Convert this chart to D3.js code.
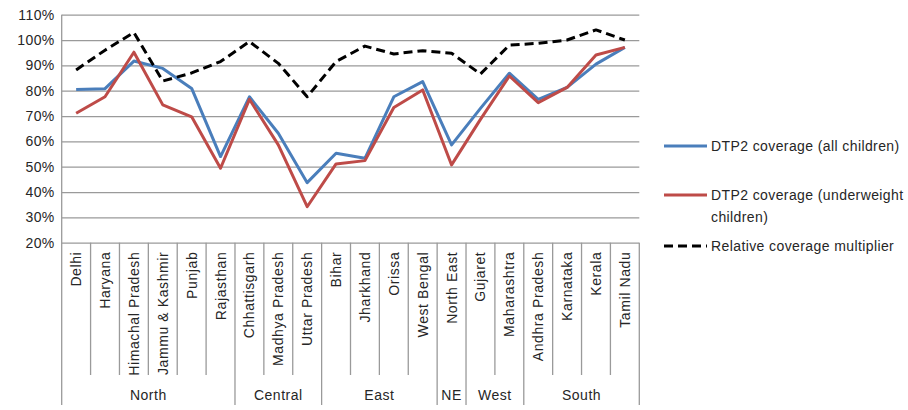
<!DOCTYPE html>
<html>
<head>
<meta charset="utf-8">
<script src="https://cdn.jsdelivr.net/npm/d3@7"></script>
<style>
  body { margin: 0; background: #fff; }
  svg { display: block; font-family: "Liberation Sans", Arial, sans-serif; }
</style>
</head>
<body>
<div id="chart"></div>
<script>
// --- Data ---
const states = ["Delhi", "Haryana", "Himachal Pradesh", "Jammu & Kashmir", "Punjab", "Rajasthan",
    "Chhattisgarh", "Madhya Pradesh", "Uttar Pradesh",
    "Bihar", "Jharkhand", "Orissa", "West Bengal",
    "North East",
    "Gujaret", "Maharashtra",
    "Andhra Pradesh", "Karnataka", "Kerala", "Tamil Nadu"];
const regions = ["North", "Central", "East", "NE", "West", "South"];
const regionSizes = [6, 3, 4, 1, 2, 4];
const allChildren = [80.5, 80.8, 91.7, 88.8, 80.9, 54.0, 77.6, 63.2, 43.7, 55.3, 53.3, 77.6, 83.6, 58.6, 73.0, 86.9, 76.6, 81.3, 90.5, 97.1];
const underweight = [71.1, 77.6, 95.2, 74.4, 69.7, 49.4, 76.6, 58.6, 34.2, 51.1, 52.4, 73.4, 80.3, 50.7, 68.7, 85.8, 75.3, 81.3, 94.1, 97.1];
const multiplier = [88.2, 96.0, 103.0, 83.8, 87.0, 91.5, 99.4, 90.8, 77.6, 91.5, 97.6, 94.5, 95.8, 94.8, 86.6, 98.0, 98.7, 100.0, 104.0, 100.0];
const yTicks = [20, 30, 40, 50, 60, 70, 80, 90, 100, 110];
const seriesNames = ["DTP2 coverage (all children)", "DTP2 coverage (underweight children)", "Relative coverage multiplier"];

const width = 908, height = 410;
const plot = { left: 61.7, right: 639.3, top: 14.7, bottom: 242.7 };
const textColor = "#262626";
const gridColor = "#9a9a9a";

const svg = d3.select("#chart").append("svg")
    .attr("width", width)
    .attr("height", height);

const x = d3.scaleBand().domain(states).range([plot.left, plot.right]).padding(0);
const y = d3.scaleLinear().domain([20, 110]).range([plot.bottom, plot.top]);

// --- Gridlines + y axis ---
const yAxis = svg.append("g")
    .attr("transform", `translate(${plot.left},0)`)
    .call(d3.axisLeft(y).tickValues(yTicks).tickFormat(d => d + "%")
        .tickSizeInner(-(plot.right - plot.left)).tickSizeOuter(0).tickPadding(7));
yAxis.select(".domain").remove();
yAxis.selectAll(".tick line").attr("stroke", gridColor).attr("stroke-width", 1.3);
yAxis.selectAll(".tick text")
    .attr("font-size", "14px")
    .attr("letter-spacing", "0.4px")
    .attr("fill", textColor);

// left axis line (runs down through the category block)
svg.append("line")
    .attr("x1", plot.left).attr("x2", plot.left)
    .attr("y1", plot.top).attr("y2", 405)
    .attr("stroke", gridColor).attr("stroke-width", 1.3);

// --- Category axis: boundaries ---
let groupEnds = [];
let acc = 0;
regionSizes.forEach(n => { acc += n; groupEnds.push(acc); });

states.forEach((s, i) => {
    const bx = x(s) + x.bandwidth();
    const isGroupEnd = groupEnds.includes(i + 1);
    svg.append("line")
        .attr("x1", bx).attr("x2", bx)
        .attr("y1", plot.bottom).attr("y2", isGroupEnd ? 405 : 375)
        .attr("stroke", gridColor).attr("stroke-width", 1.3);
});

// state labels (rotated)
svg.append("g").selectAll("text")
    .data(states)
    .join("text")
    .attr("transform", d => `translate(${x(d) + x.bandwidth() / 2 + 5},${plot.bottom + 9}) rotate(-90)`)
    .attr("text-anchor", "end")
    .attr("font-size", "14px")
    .attr("letter-spacing", "0.6px")
    .attr("fill", textColor)
    .text(d => d);

// region labels
let start = 0;
regions.forEach((r, i) => {
    const x0 = x(states[start]);
    const x1 = x(states[start + regionSizes[i] - 1]) + x.bandwidth();
    svg.append("text")
        .attr("x", (x0 + x1) / 2)
        .attr("y", 400)
        .attr("text-anchor", "middle")
        .attr("font-size", "14px")
        .attr("letter-spacing", "0.5px")
        .attr("fill", textColor)
        .text(r);
    start += regionSizes[i];
});

// --- Lines ---
const line = d3.line()
    .x((d, i) => x(states[i]) + x.bandwidth() / 2)
    .y(d => y(d));

const series = [
    { name: seriesNames[0], values: allChildren, color: "#4a7ebb", dash: null },
    { name: seriesNames[1], values: underweight, color: "#be4b48", dash: null },
    { name: seriesNames[2], values: multiplier, color: "#000000", dash: "9,5" }
];

series.forEach(s => {
    svg.append("path")
        .datum(s.values)
        .attr("fill", "none")
        .attr("stroke", s.color)
        .attr("stroke-width", 3)
        .attr("stroke-linejoin", "round")
        .attr("stroke-dasharray", s.dash)
        .attr("d", line);
});

// --- Legend ---
const legendRows = [
    { s: series[0], y: 146, lines: ["DTP2 coverage (all children)"] },
    { s: series[1], y: 195, lines: ["DTP2 coverage (underweight", "children)"] },
    { s: series[2], y: 246, lines: ["Relative coverage multiplier"] }
];

legendRows.forEach(r => {
    svg.append("line")
        .attr("x1", 664).attr("x2", 707)
        .attr("y1", r.y).attr("y2", r.y)
        .attr("stroke", r.s.color)
        .attr("stroke-width", 3)
        .attr("stroke-dasharray", r.s.dash);
    r.lines.forEach((t, j) => {
        svg.append("text")
            .attr("x", 711)
            .attr("y", r.y + 5 + j * 22)
            .attr("font-size", "14px")
            .attr("letter-spacing", "0.4px")
            .attr("fill", textColor)
            .text(t);
    });
});
</script>
</body>
</html>
